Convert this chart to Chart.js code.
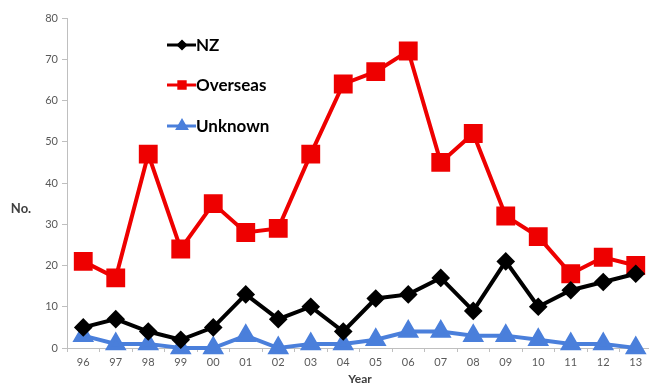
<!DOCTYPE html>
<html>
<head>
<meta charset="utf-8">
<script src="https://cdn.jsdelivr.net/npm/chart.js@4/dist/chart.umd.min.js"></script>
<style>
  html, body { margin: 0; padding: 0; background: #fff; overflow: hidden; }
  #c { display: block; }
</style>
</head>
<body>
<canvas id="c" width="652" height="385"></canvas>
<script>
// Case counts by year of notification
const years = ['96','97','98','99','00','01','02','03','04','05','06','07','08','09','10','11','12','13'];
const nz       = [5, 7, 4, 2, 5, 13, 7, 10, 4, 12, 13, 17, 9, 21, 10, 14, 16, 18];
const overseas = [21, 17, 47, 24, 35, 28, 29, 47, 64, 67, 72, 45, 52, 32, 27, 18, 22, 20];
const unknown  = [3, 1, 1, 0, 0, 3, 0, 1, 1, 2, 4, 4, 3, 3, 2, 1, 1, 0];
const yTicks   = [0, 10, 20, 30, 40, 50, 60, 70, 80];

const FONT = 'Lato, "Open Sans", "Liberation Sans", sans-serif';

// Vertical legend inside the plot plus the two horizontal axis titles
const extras = {
  id: 'extras',
  afterDraw(chart) {
    const ctx = chart.ctx;
    ctx.save();
    // legend
    const rows = [45, 85, 126];
    const sizes = [3.5, 4.5, 5];
    chart.data.datasets.forEach((ds, i) => {
      const y = rows[i];
      ctx.strokeStyle = ds.borderColor;
      ctx.lineWidth = 3;
      ctx.beginPath();
      ctx.moveTo(167, y);
      ctx.lineTo(196, y);
      ctx.stroke();
      Chart.helpers.drawPoint(ctx, {
        pointStyle: ds.pointStyle, radius: sizes[i], rotation: 0, borderWidth: 1
      }, 182, y);
      ctx.fillStyle = ds.borderColor;
      ctx.fill();
      ctx.fillStyle = '#000';
      ctx.font = 'bold 17px ' + FONT;
      ctx.textAlign = 'left';
      ctx.textBaseline = 'middle';
      ctx.fillText(ds.label, 196, y + 1);
    });
    // axis titles
    ctx.fillStyle = '#404040';
    ctx.font = 'bold 13px ' + FONT;
    ctx.textAlign = 'center';
    ctx.textBaseline = 'middle';
    ctx.fillText('No.', 21, 209);
    ctx.font = 'bold 12px ' + FONT;
    ctx.fillText('Year', 360, 379);
    ctx.restore();
  }
};

new Chart(document.getElementById('c'), {
  type: 'line',
  data: {
    labels: years,
    datasets: [
      { label: 'NZ', data: nz, borderColor: '#000000', backgroundColor: '#000000',
        pointStyle: 'rectRot', pointRadius: 6.5, borderWidth: 4, tension: 0 },
      { label: 'Overseas', data: overseas, borderColor: '#EE0000', backgroundColor: '#EE0000',
        pointStyle: 'rect', pointRadius: 10.5, borderWidth: 4, tension: 0 },
      { label: 'Unknown', data: unknown, borderColor: '#4A7FDB', backgroundColor: '#4A7FDB',
        pointStyle: 'triangle', pointRadius: 8.5, borderWidth: 4, tension: 0 }
    ]
  },
  options: {
    responsive: false,
    maintainAspectRatio: false,
    devicePixelRatio: 1,
    animation: false,
    layout: { autoPadding: false, padding: { top: 18, left: 0, right: 0, bottom: 0 } },
    plugins: { legend: { display: false }, tooltip: { enabled: false } },
    elements: { point: { borderWidth: 0 } },
    datasets: { line: { clip: false } },
    scales: {
      x: {
        offset: true,
        grid: { display: true, drawOnChartArea: false, drawTicks: true, tickLength: 4, color: '#BFBFBF', offset: true },
        border: { display: true, color: '#BFBFBF', width: 1 },
        ticks: { color: '#595959', font: { family: FONT, size: 11 }, padding: 4, maxRotation: 0, autoSkip: false },
        afterFit(scale) { scale.height = 37; }
      },
      y: {
        min: 0, max: 80,
        afterBuildTicks(scale) { scale.ticks = yTicks.map(v => ({ value: v })); },
        grid: { display: true, drawOnChartArea: false, drawTicks: true, tickLength: 5, color: '#BFBFBF' },
        border: { display: true, color: '#BFBFBF', width: 1 },
        ticks: { color: '#595959', font: { family: FONT, size: 11 }, padding: 4 },
        afterFit(scale) { scale.width = 67; }
      }
    }
  },
  plugins: [extras]
});
</script>
</body>
</html>
